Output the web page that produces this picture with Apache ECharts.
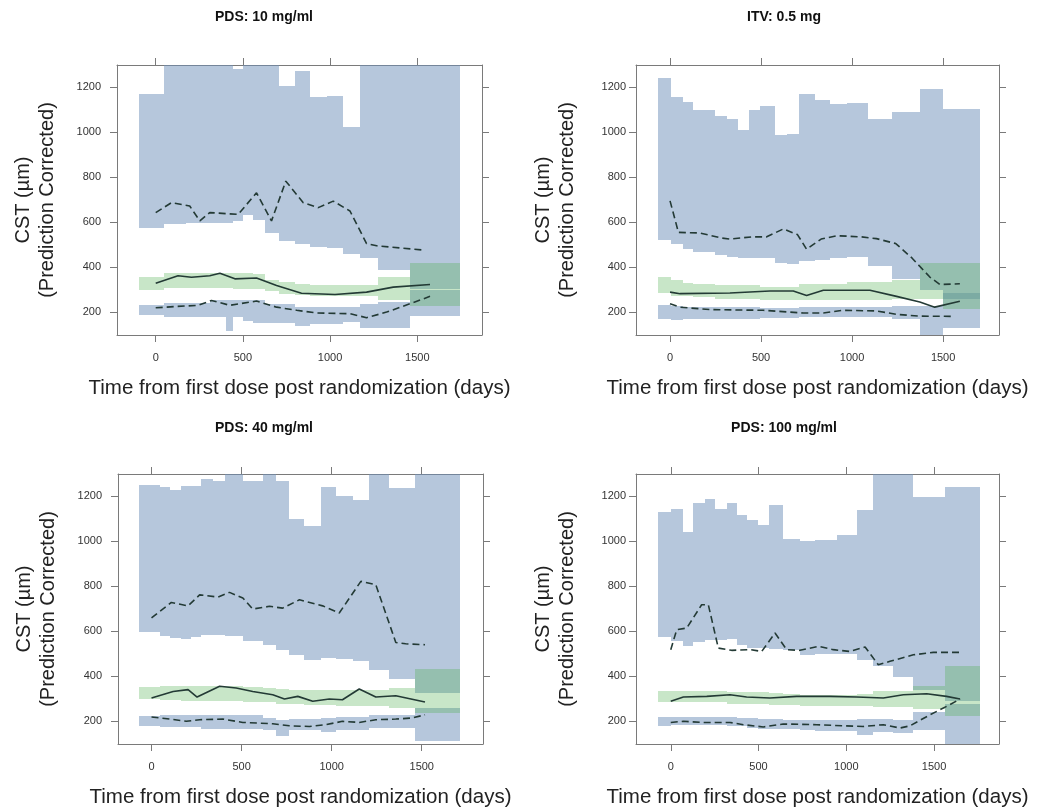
<!DOCTYPE html>
<html><head><meta charset="utf-8">
<script src="https://cdn.jsdelivr.net/npm/echarts@6/dist/echarts.min.js"></script>
<style>html,body{margin:0;padding:0;background:#fff}#chart{width:1038px;height:812px}</style>
</head><body><div id="chart"></div>
<script>
// ---------- data ----------
const panelTitles = ['PDS: 10 mg/ml', 'ITV: 0.5 mg', 'PDS: 40 mg/ml', 'PDS: 100 mg/ml'];
const xTicks = [0, 500, 1000, 1500];
const yTicks = [200, 400, 600, 800, 1000, 1200];
const xLabel = 'Time from first dose post randomization (days)';
const yLabel = 'CST (\u00b5m)\n(Prediction Corrected)';

// Panel 1: PDS 10 mg/ml
const p1Edges  = [-96, 48, 176, 310, 405, 444, 501, 559, 626, 708, 798, 884, 980, 1075, 1171, 1276, 1458, 1745];
const p1HiTop  = [1171, 1320, 1320, 1320, 1320, 1280, 1320, 1320, 1320, 1206, 1274, 1156, 1162, 1022, 1320, 1320, 1320];
const p1HiBot  = [573, 591, 598, 598, 598, 606, 631, 609, 554, 517, 503, 491, 485, 458, 441, 389, 303];
const p1MedTop = [355, 373, 373, 373, 373, 373, 373, 370, 342, 333, 325, 322, 322, 322, 322, 355, 418];
const p1MedBot = [297, 307, 307, 307, 307, 305, 305, 303, 292, 282, 275, 273, 272, 270, 270, 255, 225];
const p1LoTop  = [230, 240, 240, 252, 252, 252, 252, 252, 237, 237, 222, 222, 222, 222, 237, 244, 300];
const p1LoBot  = [186, 178, 178, 178, 115, 178, 160, 152, 150, 150, 137, 149, 149, 156, 131, 131, 181];
const p1Obs95 = [[0,643],[90,687],[195,672],[253,606],[310,643],[473,635],[578,731],[664,606],[746,783],[846,687],[932,665],[1018,694],[1114,650],[1209,505],[1267,495],[1535,476]];
const p1Obs50 = [[0,328],[128,362],[205,355],[310,362],[368,373],[454,348],[578,352],[693,318],[836,284],[1028,278],[1209,289],[1362,311],[1573,323]];
const p1Obs05 = [[0,219],[119,225],[243,230],[320,252],[425,230],[578,249],[693,222],[808,208],[922,196],[1114,193],[1209,175],[1324,200],[1458,237],[1573,270]];

// Panel 2: ITV 0.5 mg
const p2Edges  = [-64, 4, 73, 128, 247, 311, 375, 435, 494, 576, 640, 710, 796, 878, 970, 1088, 1217, 1372, 1500, 1701];
const p2HiTop  = [1240, 1158, 1136, 1099, 1072, 1061, 1010, 1099, 1116, 987, 995, 1173, 1143, 1125, 1131, 1061, 1091, 1195, 1106];
const p2HiBot  = [519, 501, 482, 467, 452, 445, 442, 442, 442, 418, 415, 427, 430, 442, 445, 403, 349, 300, 260];
const p2MedTop = [356, 341, 331, 325, 319, 319, 319, 319, 311, 311, 311, 326, 326, 326, 334, 334, 344, 418, 418];
const p2MedBot = [285, 270, 270, 268, 259, 259, 259, 259, 252, 252, 252, 255, 255, 255, 255, 255, 259, 259, 215];
const p2LoTop  = [230, 225, 222, 222, 222, 222, 222, 222, 220, 220, 220, 222, 222, 222, 222, 222, 225, 225, 285];
const p2LoBot  = [170, 163, 170, 170, 170, 170, 170, 170, 172, 172, 172, 178, 178, 178, 178, 178, 170, 80, 130];
const p2Obs95 = [[0,695],[46,555],[165,552],[280,530],[329,525],[450,535],[531,535],[622,570],[700,545],[750,480],[830,525],[915,540],[1050,535],[1134,527],[1240,505],[1330,440],[1427,356],[1482,323],[1592,326]];
const p2Obs50 = [[0,289],[55,282],[329,285],[549,294],[677,294],[750,274],[842,297],[1098,297],[1244,270],[1372,245],[1454,222],[1592,248]];
const p2Obs05 = [[0,237],[55,222],[220,211],[512,208],[732,196],[842,196],[951,208],[1134,205],[1244,190],[1372,182],[1546,181]];

// Panel 3: PDS 40 mg/ml
const p3Edges  = [-68, 46, 101, 166, 221, 277, 341, 406, 507, 618, 692, 765, 848, 941, 1024, 1116, 1208, 1319, 1463, 1710];
const p3HiTop  = [1252, 1242, 1227, 1248, 1248, 1277, 1271, 1300, 1271, 1300, 1271, 1099, 1070, 1242, 1200, 1185, 1320, 1237, 1320];
const p3HiBot  = [595, 577, 568, 565, 575, 584, 584, 580, 555, 540, 518, 495, 473, 481, 475, 466, 426, 387, 325];
const p3MedTop = [350, 357, 357, 357, 357, 357, 357, 357, 352, 347, 343, 340, 340, 340, 340, 340, 340, 347, 432];
const p3MedBot = [298, 295, 292, 290, 290, 290, 289, 288, 286, 283, 278, 275, 273, 270, 268, 266, 266, 258, 236];
const p3LoTop  = [224, 228, 228, 228, 228, 228, 228, 228, 228, 214, 206, 209, 209, 212, 218, 218, 228, 228, 258];
const p3LoBot  = [180, 172, 172, 172, 172, 165, 165, 165, 165, 159, 135, 159, 159, 150, 162, 162, 169, 169, 113];
const p3Obs95 = [[0,659],[110,728],[203,713],[267,762],[369,752],[433,773],[507,748],[562,699],[655,711],[728,703],[821,740],[950,713],[1042,681],[1162,822],[1245,807],[1356,550],[1411,544],[1518,540]];
const p3Obs50 = [[0,303],[120,332],[203,340],[253,307],[378,355],[470,347],[562,332],[673,317],[738,298],[812,310],[895,288],[987,298],[1060,295],[1153,343],[1245,307],[1356,313],[1518,285]];
const p3Obs05 = [[0,218],[101,209],[193,199],[267,206],[396,209],[507,194],[599,191],[673,188],[765,179],[876,176],[968,184],[1060,199],[1153,194],[1245,206],[1356,209],[1448,214],[1518,228]];

// Panel 4: PDS 100 mg/ml
const p4Edges  = [-70, 0, 72, 129, 195, 252, 319, 376, 436, 499, 562, 641, 736, 822, 945, 1059, 1154, 1268, 1382, 1562, 1761];
const p4HiTop  = [1129, 1144, 1044, 1170, 1188, 1144, 1170, 1119, 1093, 1074, 1163, 1012, 1000, 1007, 1030, 1138, 1320, 1320, 1197, 1242];
const p4HiBot  = [574, 555, 533, 550, 559, 559, 565, 540, 525, 525, 522, 518, 495, 500, 500, 473, 447, 395, 340, 288];
const p4MedTop = [332, 332, 332, 332, 332, 332, 328, 328, 328, 328, 325, 320, 317, 317, 317, 320, 332, 332, 354, 446];
const p4MedBot = [283, 283, 283, 283, 283, 283, 278, 277, 277, 275, 273, 270, 268, 268, 268, 265, 262, 262, 254, 221];
const p4LoTop  = [218, 218, 218, 218, 218, 218, 216, 215, 212, 209, 209, 207, 206, 206, 206, 209, 209, 206, 239, 277];
const p4LoBot  = [176, 184, 184, 184, 184, 184, 180, 178, 170, 165, 165, 165, 160, 154, 154, 139, 150, 147, 160, 60];
const p4Obs95 = [[0,518],[34,607],[91,614],[176,718],[214,718],[271,525],[347,515],[452,518],[518,510],[594,592],[660,518],[736,515],[841,533],[926,518],[1021,510],[1107,530],[1182,451],[1249,466],[1382,495],[1496,506],[1647,506]];
const p4Obs50 = [[0,288],[72,307],[205,310],[338,317],[432,307],[565,303],[717,310],[907,310],[1059,307],[1211,303],[1325,317],[1458,322],[1571,310],[1648,298]];
const p4Obs05 = [[0,194],[72,199],[186,194],[338,194],[414,184],[527,174],[641,187],[831,184],[983,179],[1097,176],[1211,184],[1306,169],[1363,179],[1477,228],[1590,273],[1648,298]];

// ---------- layout / style ----------
const FONT = '"Liberation Sans", Arial, Helvetica, sans-serif';
const BLUE = 'rgba(110,143,186,0.5)';
const GREEN = 'rgba(72,172,72,0.3)';
const LINE = '#233a35';
const AX = '#7a7a7a';

const panels = [
  {title: panelTitles[0], edges: p1Edges, hiTop: p1HiTop, hiBot: p1HiBot, medTop: p1MedTop, medBot: p1MedBot, loTop: p1LoTop, loBot: p1LoBot, o95: p1Obs95, o50: p1Obs50, o05: p1Obs05,
   xMin: -222, xMax: 1871, box: {left: 117, top: 65, width: 365, height: 270}, yMargin: 16, titleX: 264, titleY: 17, yLabX: 35},
  {title: panelTitles[1], edges: p2Edges, hiTop: p2HiTop, hiBot: p2HiBot, medTop: p2MedTop, medBot: p2MedBot, loTop: p2LoTop, loBot: p2LoBot, o95: p2Obs95, o50: p2Obs50, o05: p2Obs05,
   xMin: -187, xMax: 1807, box: {left: 636, top: 65, width: 363, height: 270}, yMargin: 10, titleX: 784, titleY: 17, yLabX: 555},
  {title: panelTitles[2], edges: p3Edges, hiTop: p3HiTop, hiBot: p3HiBot, medTop: p3MedTop, medBot: p3MedBot, loTop: p3LoTop, loBot: p3LoBot, o95: p3Obs95, o50: p3Obs50, o05: p3Obs05,
   xMin: -186, xMax: 1840, box: {left: 118, top: 474, width: 365, height: 270}, yMargin: 16, titleX: 264, titleY: 428, yLabX: 36},
  {title: panelTitles[3], edges: p4Edges, hiTop: p4HiTop, hiBot: p4HiBot, medTop: p4MedTop, medBot: p4MedBot, loTop: p4LoTop, loBot: p4LoBot, o95: p4Obs95, o50: p4Obs50, o05: p4Obs05,
   xMin: -198, xMax: 1870, box: {left: 636, top: 474, width: 363, height: 270}, yMargin: 10, titleX: 784, titleY: 428, yLabX: 555}
];
const Y_MIN = 98, Y_MAX = 1300;

function bins(edges, lo, hi) { return lo.map((v, i) => [edges[i], edges[i + 1], v, hi[i]]); }

function bandRenderer(color) {
  return function (params, api) {
    const a = api.coord([api.value(0), api.value(3)]);
    const b = api.coord([api.value(1), api.value(2)]);
    const x = Math.round(a[0]), y = Math.round(a[1]);
    const w = Math.round(b[0]) - x, h = Math.round(b[1]) - y;
    const cs = params.coordSys;
    const shape = echarts.graphic.clipRectByRect({x: x, y: y, width: w, height: h},
      {x: cs.x, y: cs.y, width: cs.width, height: cs.height});
    if (!shape) return null;
    return {type: 'rect', shape: shape, style: {fill: color}};
  };
}

const plain = v => String(v);
const grid = [], xAxis = [], yAxis = [], series = [], graphic = [];
panels.forEach((p, i) => {
  grid.push(Object.assign({containLabel: false}, p.box));
  ['bottom', 'top'].forEach(pos => xAxis.push({
    type: 'value', gridIndex: i, position: pos, min: p.xMin, max: p.xMax,
    axisLine: {show: true, onZero: false, lineStyle: {color: AX, width: 1}},
    axisTick: {show: true, inside: false, length: 7, customValues: xTicks, lineStyle: {color: AX, width: 1}},
    axisLabel: {show: pos === 'bottom', customValues: xTicks, formatter: plain, margin: 17, fontSize: 11, color: '#333', fontFamily: FONT},
    splitLine: {show: false}
  }));
  ['left', 'right'].forEach(pos => yAxis.push({
    type: 'value', gridIndex: i, position: pos, min: Y_MIN, max: Y_MAX,
    axisLine: {show: true, onZero: false, lineStyle: {color: AX, width: 1}},
    axisTick: {show: true, inside: false, length: 7, customValues: yTicks, lineStyle: {color: AX, width: 1}},
    axisLabel: {show: pos === 'left', customValues: yTicks, formatter: plain, margin: p.yMargin, fontSize: 11, color: '#333', fontFamily: FONT},
    splitLine: {show: false}
  }));
  const xi = 2 * i, yi = 2 * i;
  const band = (lo, hi, color) => ({
    type: 'custom', xAxisIndex: xi, yAxisIndex: yi, silent: true,
    renderItem: bandRenderer(color), encode: {x: [0, 1], y: [2, 3]},
    data: bins(p.edges, lo, hi)
  });
  series.push(band(p.hiBot, p.hiTop, BLUE));
  series.push(band(p.loBot, p.loTop, BLUE));
  series.push(band(p.medBot, p.medTop, GREEN));
  const line = (data, dashed) => ({
    type: 'line', xAxisIndex: xi, yAxisIndex: yi, data: data, silent: true,
    symbol: 'none', showSymbol: false, z: 5,
    lineStyle: {color: LINE, width: 1.6, type: dashed ? [7, 4] : 'solid'}
  });
  series.push(line(p.o95, true));
  series.push(line(p.o50, false));
  series.push(line(p.o05, true));

  const cx = p.box.left + p.box.width / 2;
  const cy = p.box.top + p.box.height / 2;
  graphic.push({type: 'text', x: p.titleX, y: p.titleY, silent: true,
    style: {text: p.title, fill: '#111', font: 'bold 14px ' + FONT, align: 'center', verticalAlign: 'middle'}});
  graphic.push({type: 'text', x: cx, y: p.box.top + p.box.height + 53, silent: true,
    style: {text: xLabel, fill: '#222', font: '20.5px ' + FONT, align: 'center', verticalAlign: 'middle'}});
  graphic.push({type: 'text', x: p.yLabX, y: cy, rotation: Math.PI / 2, silent: true,
    style: {text: yLabel, fill: '#222', font: '20px ' + FONT, align: 'center', verticalAlign: 'middle', lineHeight: 24}});
});

const chart = echarts.init(document.getElementById('chart'), null, {renderer: 'canvas'});
chart.setOption({
  animation: false,
  backgroundColor: '#fff',
  grid: grid, xAxis: xAxis, yAxis: yAxis, series: series, graphic: graphic
});
</script>
</body></html>
